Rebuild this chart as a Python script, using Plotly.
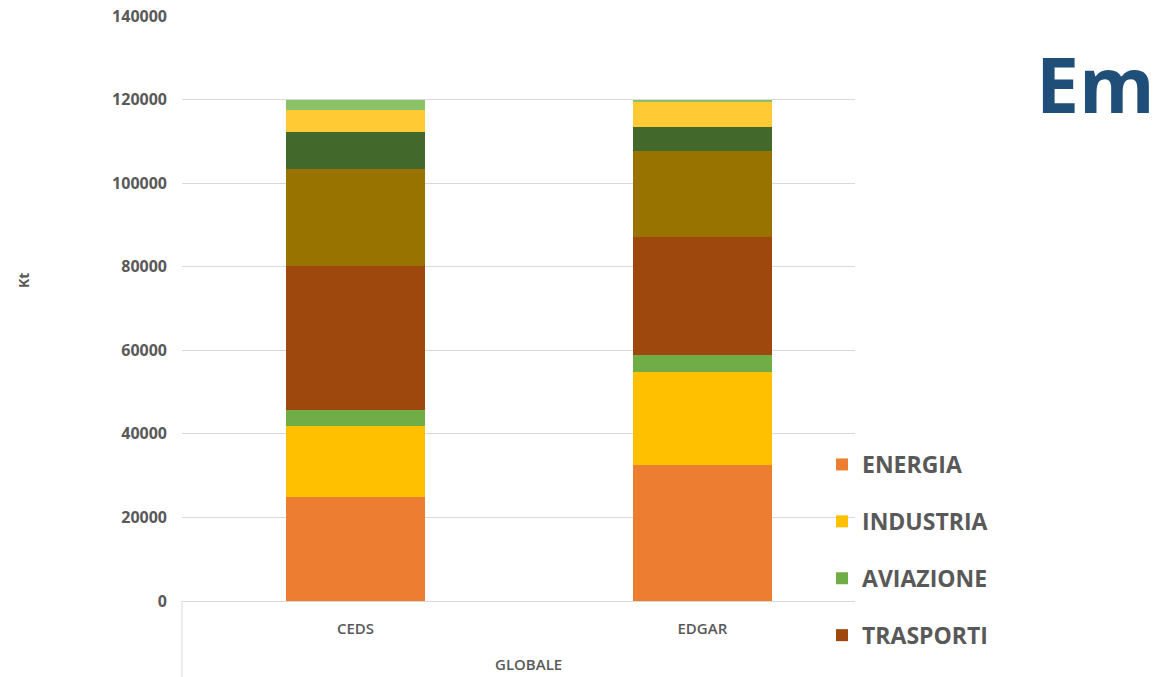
import plotly.graph_objects as go

# Inventari a confronto (livello globale)
inventari = ["CEDS", "EDGAR"]
gruppo = "GLOBALE"

settori = ["ENERGIA", "INDUSTRIA", "AVIAZIONE", "TRASPORTI",
           "RESIDENZIALE", "AGRICOLTURA", "NAVIGAZIONE", "RIFIUTI"]

energia = [25000, 32600]
industria = [16800, 22300]
aviazione = [4000, 3900]
trasporti = [34300, 28200]
residenziale = [23200, 20600]
agricoltura = [9000, 5900]
navigazione = [5200, 6100]
rifiuti = [2400, 150]

valori = [energia, industria, aviazione, trasporti,
          residenziale, agricoltura, navigazione, rifiuti]
colori = ["#ED7D31", "#FFC000", "#70AD47", "#9E480E",
          "#997300", "#43682B", "#FFCA33", "#8CC168"]
in_legenda = [True, True, True, True, False, False, False, False]

GRIGIO = "#595959"
FONT = "Open Sans"

fig = go.Figure()
for i, (nome, v, c, leg) in enumerate(zip(settori, valori, colori, in_legenda)):
    fig.add_trace(go.Bar(
        x=inventari,
        y=v,
        name=nome,
        marker=dict(color=c, line=dict(width=0)),
        width=0.4,
        showlegend=leg,
        legendgroup=f"g{i}",
    ))

fig.update_layout(
    barmode="stack",
    width=1153,
    height=677,
    margin=dict(l=182, r=298, t=16, b=76),
    paper_bgcolor="white",
    plot_bgcolor="white",
    font=dict(family=FONT, color=GRIGIO),
    legend=dict(
        x=0.951, y=(601 - 443) / 585, xanchor="left", yanchor="top",
        font=dict(family=FONT, size=23, color=GRIGIO, weight="bold"),
        traceorder="grouped",
        tracegroupgap=24,
        bgcolor="rgba(0,0,0,0)",
    ),
    xaxis=dict(
        type="category",
        range=[-0.5, 1.44],
        automargin=False,
        showgrid=False,
        showline=True,
        linecolor="#D9D9D9",
        linewidth=1,
        ticks="",
        ticklabelstandoff=14,
        tickfont=dict(family=FONT, size=15, color=GRIGIO, weight=600),
    ),
    yaxis=dict(
        range=[0, 140000],
        dtick=20000,
        tickformat="d",
        automargin=False,
        showgrid=True,
        gridcolor="#D9D9D9",
        gridwidth=1,
        zeroline=False,
        showline=False,
        ticklabelstandoff=14,
        tickfont=dict(family=FONT, size=16, color=GRIGIO, weight="bold"),
    ),
    shapes=[
        # separatore verticale del gruppo sotto l'asse
        dict(type="line", xref="paper", yref="paper",
             x0=0, x1=0, y0=0, y1=-76 / 585,
             line=dict(color="#D9D9D9", width=1)),
    ],
    annotations=[
        # etichetta del gruppo, centrata fra le due categorie
        dict(text=gruppo, xref="x", yref="paper",
             x=0.5, y=-(664 - 601) / 585,
             xanchor="center", yanchor="middle", showarrow=False,
             font=dict(family=FONT, size=15, color=GRIGIO, weight=600)),
        dict(text="Kt", textangle=-90, xref="paper", yref="paper",
             x=(24 - 182) / 673, y=(601 - 281) / 585,
             xanchor="center", yanchor="middle", showarrow=False,
             font=dict(family=FONT, size=14, color=GRIGIO, weight="bold")),
        dict(text="Emissioni", xref="paper", yref="paper",
             x=(1034 - 182) / 673, y=(601 - 83) / 585,
             xanchor="left", yanchor="middle", showarrow=False,
             font=dict(family=FONT, size=77, color="#1F4E79", weight="bold")),
    ],
)

fig.write_html("out.html")
